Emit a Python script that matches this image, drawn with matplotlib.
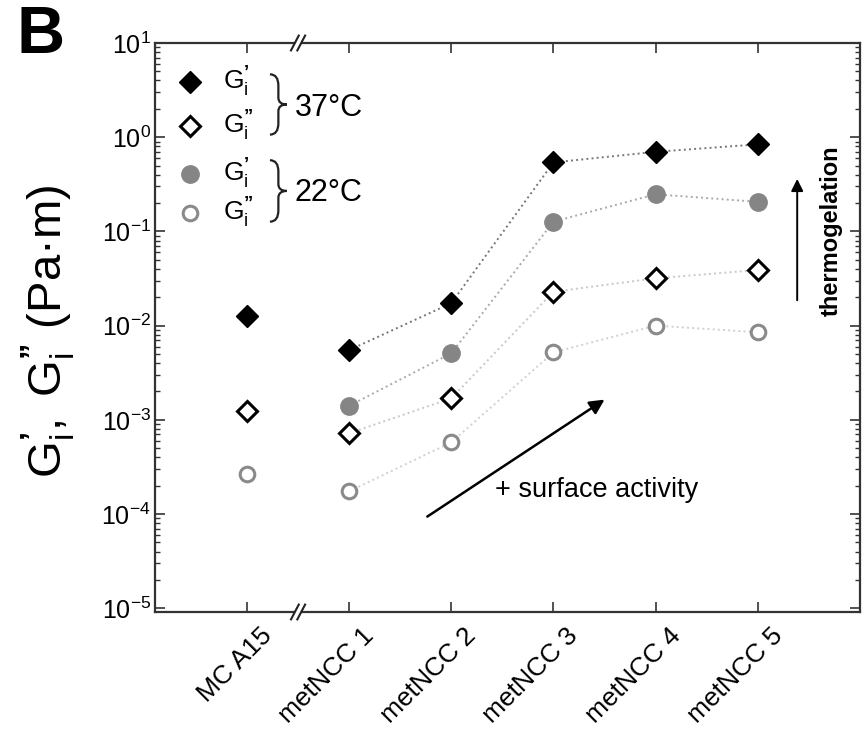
import numpy as np
import matplotlib
matplotlib.use("Agg")
import matplotlib.pyplot as plt
import matplotlib.transforms as mtransforms
from matplotlib.path import Path
from matplotlib.patches import PathPatch
from matplotlib.ticker import FixedLocator, NullFormatter

plt.rcParams['font.family'] = ['Liberation Sans', 'DejaVu Sans']
plt.rcParams['mathtext.fontset'] = 'custom'
plt.rcParams['mathtext.rm'] = 'Liberation Sans'
plt.rcParams['mathtext.it'] = 'Liberation Sans:italic'
plt.rcParams['mathtext.bf'] = 'Liberation Sans:bold'

# Interfacial moduli per sample
categories = ["MC A15", "metNCC 1", "metNCC 2", "metNCC 3", "metNCC 4", "metNCC 5"]
g1_37 = [0.0127, 0.0055, 0.0173, 0.54, 0.70, 0.84]        # G_i'  at 37 °C
g2_37 = [0.00124, 0.00072, 0.00169, 0.0229, 0.0318, 0.0389]  # G_i'' at 37 °C
g1_22 = [np.nan, 0.00141, 0.00508, 0.127, 0.248, 0.206]   # G_i'  at 22 °C
g2_22 = [2.66e-4, 1.74e-4, 5.77e-4, 0.0052, 0.0100, 0.0085]  # G_i'' at 22 °C
decades = [-5, -4, -3, -2, -1, 0, 1]

P1 = "\\mathbf{\u2019}"
P2 = "\\mathbf{\u201D}"

fig = plt.figure(figsize=(8.66, 7.29), dpi=100)
ax = fig.add_axes([0.179, 0.1605, 0.814, 0.7805])

x = np.arange(len(categories))

sty_f37 = dict(marker='D', ms=11.5, mfc='black', mec='black', mew=1.0)
sty_o37 = dict(marker='D', ms=10.0, mfc='white', mec='black', mew=2.2)
sty_f22 = dict(marker='o', ms=12.5, mfc='#858585', mec='#858585', mew=1.0)
sty_o22 = dict(marker='o', ms=10.5, mfc='white', mec='#8a8a8a', mew=2.2)

# connecting lines for the metNCC series only
sl = slice(1, None)
ax.plot(x[sl], np.array(g1_37)[sl], ls=':', color='#777777', lw=1.4, zorder=1)
ax.plot(x[sl], np.array(g1_22)[sl], ls=':', color='#aaaaaa', lw=1.4, zorder=1)
ax.plot(x[sl], np.array(g2_37)[sl], ls=':', color='#c8c8c8', lw=1.4, zorder=1)
ax.plot(x[sl], np.array(g2_22)[sl], ls=':', color='#d0d0d0', lw=1.4, zorder=1)

ax.plot(x, g1_37, ls='none', zorder=3, **sty_f37)
ax.plot(x, g2_37, ls='none', zorder=3, **sty_o37)
ax.plot(x, g1_22, ls='none', zorder=3, **sty_f22)
ax.plot(x, g2_22, ls='none', zorder=3, **sty_o22)

ax.set_yscale('log')
ax.set_ylim(10 ** -5.04, 10)
ax.set_xlim(-0.9, 6.0)

# category ticks; names drawn as rotated texts hanging below each tick
ax.xaxis.set_major_locator(FixedLocator(x))
ax.xaxis.set_major_formatter(NullFormatter())
lab_tr = ax.get_xaxis_transform() + mtransforms.ScaledTranslation(0.21, -0.20, fig.dpi_scale_trans)
for xi, name in zip(x, categories):
    ax.text(xi, 0, name, transform=lab_tr, rotation=45, rotation_mode='anchor',
            ha='right', va='center', fontsize=19, clip_on=False)

ax.yaxis.set_major_locator(FixedLocator([10.0 ** d for d in decades]))
ax.set_yticklabels([r"$\mathregular{10^{%d}}$" % d for d in decades])
minor = [m * 10.0 ** d for d in decades[:-1] for m in range(2, 10)]
ax.yaxis.set_minor_locator(FixedLocator(minor))
ax.yaxis.set_minor_formatter(NullFormatter())

ax.tick_params(axis='both', which='major', direction='in', length=7, width=1.2,
               top=True, right=True, color='#333333')
ax.tick_params(axis='y', which='minor', direction='in', length=3.5, width=1.0,
               right=True, color='#333333')
ax.tick_params(axis='y', which='major', labelsize=18, pad=3)

for s in ax.spines.values():
    s.set_linewidth(1.6)
    s.set_color('#333333')

# axis break marks between MC A15 and metNCC 1
xb = (0.5 - ax.get_xlim()[0]) / (ax.get_xlim()[1] - ax.get_xlim()[0])
dx, dy, gap = 0.0055, 0.013, 0.0045
for yb in (0.0, 1.0):
    ax.plot([xb - gap, xb + gap], [yb, yb], transform=ax.transAxes, color='white',
            lw=3, clip_on=False, zorder=5, solid_capstyle='butt')
    for off in (-gap, gap):
        ax.plot([xb + off - dx, xb + off + dx], [yb - dy, yb + dy], transform=ax.transAxes,
                color='#222222', lw=1.5, clip_on=False, zorder=6)

# legend block
lx, tx = 0.0496, 0.097
ax.plot([lx], [0.931], transform=ax.transAxes, ls='none', **sty_f37)
ax.plot([lx], [0.854], transform=ax.transAxes, ls='none', **sty_o37)
ax.plot([lx], [0.770], transform=ax.transAxes, ls='none', **sty_f22)
ax.plot([lx], [0.701], transform=ax.transAxes, ls='none', **sty_o22)
for yy, p in [(0.931, P1), (0.854, P2), (0.770, P1), (0.701, P2)]:
    ax.text(tx, yy, "$\\mathregular{G^{%s}_i}$" % p, transform=ax.transAxes,
            fontsize=19, ha='left', va='center')


def brace(x0, y0, y1, w):
    ym = (y0 + y1) / 2
    verts = [(x0, y1), (x0 + w * 0.5, y1), (x0 + w * 0.5, y1 - 0.02),
             (x0 + w * 0.5, ym + 0.012), (x0 + w * 0.5, ym), (x0 + w, ym),
             (x0 + w * 0.5, ym), (x0 + w * 0.5, ym - 0.012),
             (x0 + w * 0.5, y0 + 0.02), (x0 + w * 0.5, y0), (x0, y0)]
    codes = [Path.MOVETO, Path.CURVE3, Path.CURVE3, Path.LINETO,
             Path.CURVE3, Path.CURVE3, Path.CURVE3, Path.CURVE3,
             Path.LINETO, Path.CURVE3, Path.CURVE3]
    ax.add_patch(PathPatch(Path(verts, codes), transform=ax.transAxes, fill=False,
                           lw=1.6, color='#222222', clip_on=False))


brace(0.163, 0.839, 0.945, 0.024)
brace(0.163, 0.686, 0.794, 0.024)
ax.text(0.198, 0.885, "37°C", transform=ax.transAxes, fontsize=22, ha='left', va='center')
ax.text(0.198, 0.736, "22°C", transform=ax.transAxes, fontsize=22, ha='left', va='center')

# trend arrows
ax.annotate("", xy=(0.641, 0.376), xytext=(0.383, 0.165), xycoords='axes fraction',
            arrowprops=dict(arrowstyle='-|>', color='black', lw=1.8, mutation_scale=22))
ax.text(0.483, 0.214, "+ surface activity", transform=ax.transAxes, fontsize=19.5,
        ha='left', va='center')
ax.annotate("", xy=(0.911, 0.766), xytext=(0.911, 0.543), xycoords='axes fraction',
            arrowprops=dict(arrowstyle='-|>', color='black', lw=1.4, mutation_scale=18))
ax.text(0.960, 0.671, "thermogelation", transform=ax.transAxes, fontsize=17,
        fontweight='bold', rotation=90, ha='center', va='center')

fig.text(0.056, 0.545, "$\\mathregular{G^{%s}_i,\\ G^{%s}_i}$ (Pa·m)" % (P1, P2), rotation=90,
         fontsize=34, ha='center', va='center')
fig.text(0.019, 0.951, "B", fontsize=48, fontweight='bold', ha='left', va='center')

fig.savefig("out.png", dpi=100)
